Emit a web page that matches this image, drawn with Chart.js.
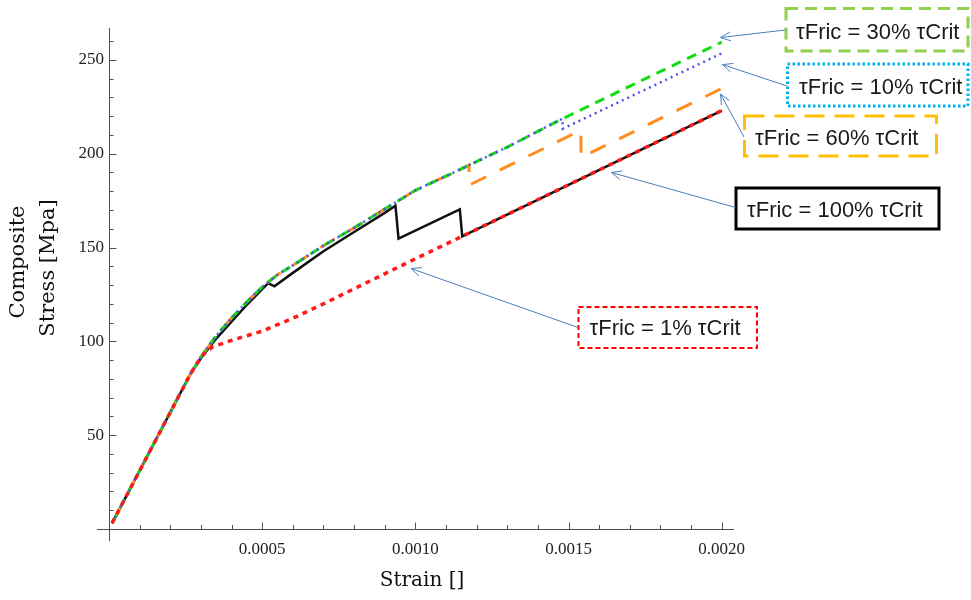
<!DOCTYPE html>
<html>
<head>
<meta charset="utf-8">
<script src="https://cdn.jsdelivr.net/npm/chart.js@4.4.1/dist/chart.umd.min.js"></script>
<style>
html,body{margin:0;padding:0;background:#fff;}
#wrap{width:971px;height:600px;position:relative;}
</style>
</head>
<body>
<div id="wrap"><canvas id="c" width="971" height="600"></canvas></div>
<script>
// ---------- data ----------
const xTickValues = [0.0005, 0.0010, 0.0015, 0.0020];
const yTickValues = [50, 100, 150, 200, 250];
const xAxisTitle = 'Strain []';
const yAxisTitle = ['Composite', 'Stress [Mpa]'];

const fric1Strain = [0.00001, 0.000266, 0.0003, 0.00032, 0.00034, 0.0004, 0.0005, 0.0006, 0.0007, 0.0008, 0.0009, 0.001, 0.001153, 0.002];
const fric1Stress = [3.1, 82.7, 91.5, 95, 97.2, 100.5, 105.5, 112.3, 120, 128, 136, 144, 156, 223];

const fric10Strain = [0.00001, 0.000266, 0.0003, 0.00035, 0.0004, 0.00045, 0.0005, 0.00055, 0.0006, 0.0007, 0.0008, 0.0009, 0.001, 0.0011, 0.00117, 0.0013, 0.00146, 0.00148, 0.001481, 0.002];
const fric10Stress = [3.1, 82.7, 91.8, 103, 112.5, 121, 129, 135.5, 140.5, 151, 160.5, 170.5, 180.5, 188, 193.5, 203.5, 217, 218.6, 213.3, 253.5];

const fric30Strain = [0.00001, 0.000266, 0.0003, 0.00035, 0.0004, 0.00045, 0.0005, 0.00055, 0.0006, 0.0007, 0.0008, 0.0009, 0.001, 0.0011, 0.00117, 0.0013, 0.00146, 0.0017, 0.002];
const fric30Stress = [3.1, 82.7, 91.8, 103, 112.5, 121, 129, 135.5, 140.5, 151, 160.5, 170.5, 180.5, 188, 193.5, 203.5, 217, 236, 259.5];

const fric60Strain = [0.00001, 0.000266, 0.0003, 0.00035, 0.0004, 0.00045, 0.0005, 0.00055, 0.0006, 0.0007, 0.0008, 0.0009, 0.001, 0.0011, 0.00117, 0.001175, 0.001176, 0.00154, 0.001541, 0.002];
const fric60Stress = [3.1, 82.7, 91.8, 103, 112.5, 121, 129, 135.5, 140.5, 151, 160.5, 170.5, 180.5, 188, 193.5, 193.9, 183.3, 212.5, 198, 234.8];

const fric100Strain = [0.00001, 0.000266, 0.0003, 0.00035, 0.0004, 0.00045, 0.0005, 0.00052, 0.00054, 0.0006, 0.0007, 0.0008, 0.0009, 0.000935, 0.000945, 0.001145, 0.001153, 0.002];
const fric100Stress = [3.1, 82.7, 91, 101.5, 110.5, 119.5, 127.8, 131, 129.3, 136.5, 148, 158.3, 168.5, 172.3, 154.7, 170.3, 156, 223];

// annotations: text boxes (layout in px) with arrow tips in data units
const notes = [
  {text: 'τFric = 30% τCrit',  box: [786, 8.5, 968, 51],   color: '#92d050', lw: 3, dash: [12, 7], tx: 796, ty: 39,  from: [785, 30],    tip: [0.001996, 261.9]},
  {text: 'τFric = 10% τCrit',  box: [787.5, 64, 968, 106], color: '#00b0f0', lw: 3, dash: [2.5, 2.5], tx: 799, ty: 93.5, from: [787, 86], tip: [0.0020025, 247.5]},
  {text: 'τFric = 60% τCrit',  box: [744.5, 116, 936.5, 156], color: '#ffc000', lw: 3, dash: [20, 10], tx: 755, ty: 145, from: [744, 137], tip: [0.001996, 231.8]},
  {text: 'τFric = 100% τCrit', box: [736, 188, 939, 229],  color: '#000000', lw: 3, dash: [],      tx: 747, ty: 216.5, from: [735.5, 207.5], tip: [0.00164, 190.0]},
  {text: 'τFric = 1% τCrit',   box: [578.5, 307, 757, 348], color: '#ff0000', lw: 2, dash: [5, 3],  tx: 589.5, ty: 335, from: [578, 327.5], tip: [0.000986, 138.8]}
];

function pts(xs, ys) { return xs.map((v, i) => ({x: v, y: ys[i]})); }

const overlay = {
  id: 'overlay',
  afterDraw(chart) {
    const {ctx, chartArea: ca, scales} = chart;
    const xs = scales.x, ys = scales.y;
    const x0 = Math.round(xs.getPixelForValue(0)) + 0.5;
    const y0 = Math.round(ys.getPixelForValue(0)) + 0.5;
    ctx.save();
    // axes
    ctx.strokeStyle = '#505050';
    ctx.lineWidth = 1;
    ctx.beginPath();
    ctx.moveTo(97, y0); ctx.lineTo(ca.right, y0);
    ctx.moveTo(x0, 541); ctx.lineTo(x0, ca.top);
    // x ticks (inward)
    for (let i = 1; i <= 20; i++) {
      const px = Math.round(xs.getPixelForValue(i * 0.0001)) + 0.5;
      const len = i % 5 === 0 ? 7 : 4.5;
      ctx.moveTo(px, y0); ctx.lineTo(px, y0 - len);
    }
    // y ticks (inward)
    for (let i = 1; i <= 26; i++) {
      const py = Math.round(ys.getPixelForValue(i * 10)) + 0.5;
      const len = i % 5 === 0 ? 7 : 4;
      ctx.moveTo(x0, py); ctx.lineTo(x0 + len, py);
    }
    ctx.stroke();

    // axis titles
    ctx.fillStyle = '#111';
    ctx.font = '20px "DejaVu Serif"';
    ctx.textAlign = 'center';
    ctx.textBaseline = 'alphabetic';
    ctx.fillText(xAxisTitle, 422, 586);
    ctx.font = '21px "DejaVu Serif"';
    ctx.save();
    ctx.translate(24, 262);
    ctx.rotate(-Math.PI / 2);
    ctx.fillText(yAxisTitle[0], 0, 0);
    ctx.restore();
    ctx.save();
    ctx.translate(54, 268);
    ctx.rotate(-Math.PI / 2);
    ctx.fillText(yAxisTitle[1], 0, 0);
    ctx.restore();

    // annotations
    notes.forEach(n => {
      const [bx1, by1, bx2, by2] = n.box;
      ctx.save();
      ctx.strokeStyle = n.color;
      ctx.lineWidth = n.lw;
      ctx.setLineDash(n.dash);
      ctx.strokeRect(bx1, by1, bx2 - bx1, by2 - by1);
      ctx.restore();
      ctx.fillStyle = '#1a1a1a';
      ctx.font = '22px "Liberation Sans"';
      ctx.textAlign = 'left';
      ctx.textBaseline = 'alphabetic';
      ctx.fillText(n.text, n.tx, n.ty);
      // arrow
      const tx = xs.getPixelForValue(n.tip[0]);
      const ty = ys.getPixelForValue(n.tip[1]);
      const [fx, fy] = n.from;
      ctx.save();
      ctx.strokeStyle = '#4a7ebb';
      ctx.lineWidth = 1;
      ctx.beginPath();
      ctx.moveTo(fx, fy); ctx.lineTo(tx, ty);
      const ang = Math.atan2(fy - ty, fx - tx);
      const L = 11, a = 0.42;
      ctx.moveTo(tx + L * Math.cos(ang + a), ty + L * Math.sin(ang + a));
      ctx.lineTo(tx, ty);
      ctx.lineTo(tx + L * Math.cos(ang - a), ty + L * Math.sin(ang - a));
      ctx.stroke();
      ctx.restore();
    });
    ctx.restore();
  }
};

const common = {pointRadius: 0, pointHoverRadius: 0, fill: false, tension: 0, borderJoinStyle: 'miter', borderCapStyle: 'butt'};

new Chart(document.getElementById('c'), {
  type: 'line',
  data: {
    datasets: [
      Object.assign({label: 'τFric = 1% τCrit', data: pts(fric1Strain, fric1Stress), borderColor: '#ff1a1a', borderWidth: 3.5, borderDash: [5, 5], order: 0}, common),
      Object.assign({label: 'τFric = 10% τCrit', data: pts(fric10Strain, fric10Stress), borderColor: '#5050f0', borderWidth: 2.5, borderDash: [2, 4], order: 1}, common),
      Object.assign({label: 'τFric = 30% τCrit', data: pts(fric30Strain, fric30Stress), borderColor: '#11dd11', borderWidth: 3, borderDash: [10, 7], order: 2}, common),
      Object.assign({label: 'τFric = 60% τCrit', data: pts(fric60Strain, fric60Stress), borderColor: '#ff8c1e', borderWidth: 3, borderDash: [17, 15], order: 3}, common),
      Object.assign({label: 'τFric = 100% τCrit', data: pts(fric100Strain, fric100Stress), borderColor: '#111111', borderWidth: 2.5, order: 4}, common)
    ]
  },
  options: {
    responsive: false,
    animation: false,
    devicePixelRatio: 1,
    layout: {padding: {left: 0, right: 237, top: 28, bottom: 0}},
    plugins: {legend: {display: false}, tooltip: {enabled: false}, title: {display: false}},
    scales: {
      x: {
        type: 'linear', min: 0, max: 0.00204,
        grid: {display: false, drawTicks: false},
        border: {display: false},
        afterBuildTicks: s => { s.ticks = xTickValues.map(v => ({value: v})); },
        afterFit: s => { s.height = 71; },
        ticks: {font: {family: 'Liberation Serif', size: 17}, color: '#222', padding: 10, maxRotation: 0, autoSkip: false,
                callback: v => Number(v).toFixed(4)}
      },
      y: {
        type: 'linear', min: 0, max: 267,
        grid: {display: false, drawTicks: false},
        border: {display: false},
        afterBuildTicks: s => { s.ticks = yTickValues.map(v => ({value: v})); },
        afterFit: s => { s.width = 109; },
        ticks: {font: {family: 'Liberation Serif', size: 17}, color: '#222', padding: 5, autoSkip: false,
                callback: v => String(v)}
      }
    }
  },
  plugins: [overlay]
});
</script>
</body>
</html>
